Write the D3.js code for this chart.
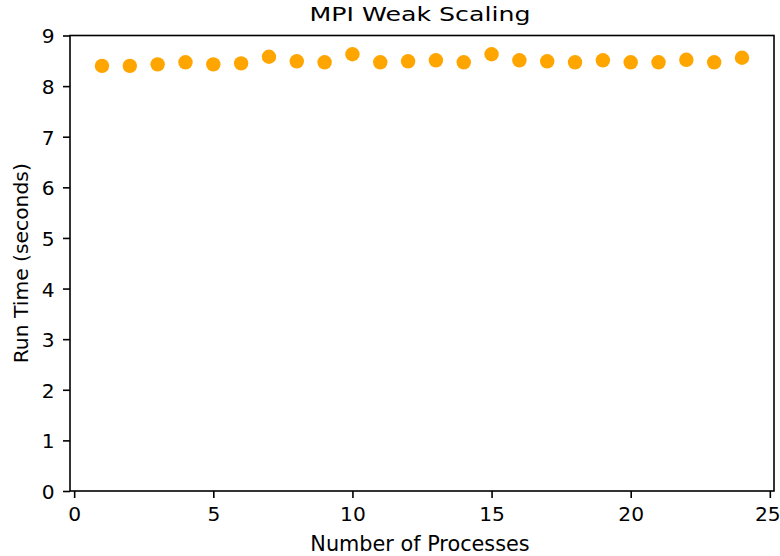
<!DOCTYPE html>
<html><head><meta charset="utf-8">
<script src="https://cdn.jsdelivr.net/npm/d3@7"></script>
<style>body{margin:0;background:#fff}svg{display:block}text{font-family:"DejaVu Sans",sans-serif}</style>
</head><body>
<svg id="c" width="780" height="556"></svg>
<script>
const processes = [1,2,3,4,5,6,7,8,9,10,11,12,13,14,15,16,17,18,19,20,21,22,23,24];
const runTimes = [8.40,8.40,8.43,8.47,8.43,8.45,8.58,8.49,8.47,8.63,8.47,8.49,8.51,8.47,8.63,8.51,8.49,8.47,8.51,8.47,8.47,8.52,8.47,8.56];
const xTicks = [0,5,10,15,20,25];
const yTicks = [0,1,2,3,4,5,6,7,8,9];
const title = "MPI Weak Scaling";
const xLabel = "Number of Processes";
const yLabel = "Run Time (seconds)";

const L = 70, R = 774, T = 35.5, B = 491;
const svg = d3.select("#c");
const x = d3.scaleLinear().domain([-0.15, 25.15]).range([L, R]);
const y = d3.scaleLinear().domain([0, 9]).range([B, T]);
const fs = 20.2;

const xa = svg.append("g").attr("transform", `translate(0,${B})`)
  .call(d3.axisBottom(x).tickValues(xTicks).tickSize(7).tickPadding(8.7).tickFormat(d3.format("d")));
const ya = svg.append("g").attr("transform", `translate(${L},0)`)
  .call(d3.axisLeft(y).tickValues(yTicks).tickSize(7).tickPadding(8.3).tickFormat(d3.format("d")));
[xa, ya].forEach(g => {
  g.select(".domain").remove();
  g.selectAll("line").attr("stroke", "#000").attr("stroke-width", 1.6);
  g.selectAll("text").attr("font-size", fs).attr("fill", "#000").attr("font-family", "DejaVu Sans");
});
ya.selectAll("text").attr("dy", "0.37em");
xa.selectAll("text").filter(d => d === 25).attr("dx", -2.5);

svg.append("rect").attr("x", L).attr("y", T).attr("width", R - L).attr("height", B - T)
  .attr("fill", "none").attr("stroke", "#000").attr("stroke-width", 1.6);

svg.append("g").selectAll("circle").data(processes).join("circle")
  .attr("cx", d => x(d)).attr("cy", (d, i) => y(runTimes[i])).attr("r", 7.2)
  .attr("fill", "#FFA500");

svg.append("text").attr("x", 420).attr("y", 20.7).attr("text-anchor", "middle")
  .attr("font-size", 19.5).attr("textLength", 221).attr("lengthAdjust", "spacingAndGlyphs").text(title);
svg.append("text").attr("x", 420).attr("y", 551).attr("text-anchor", "middle")
  .attr("font-size", 20.8).text(xLabel);
svg.append("text").attr("transform", `translate(28,${(T + B) / 2}) rotate(-90)`).attr("text-anchor", "middle")
  .attr("font-size", 20.3).text(yLabel);
</script>
</body></html>
